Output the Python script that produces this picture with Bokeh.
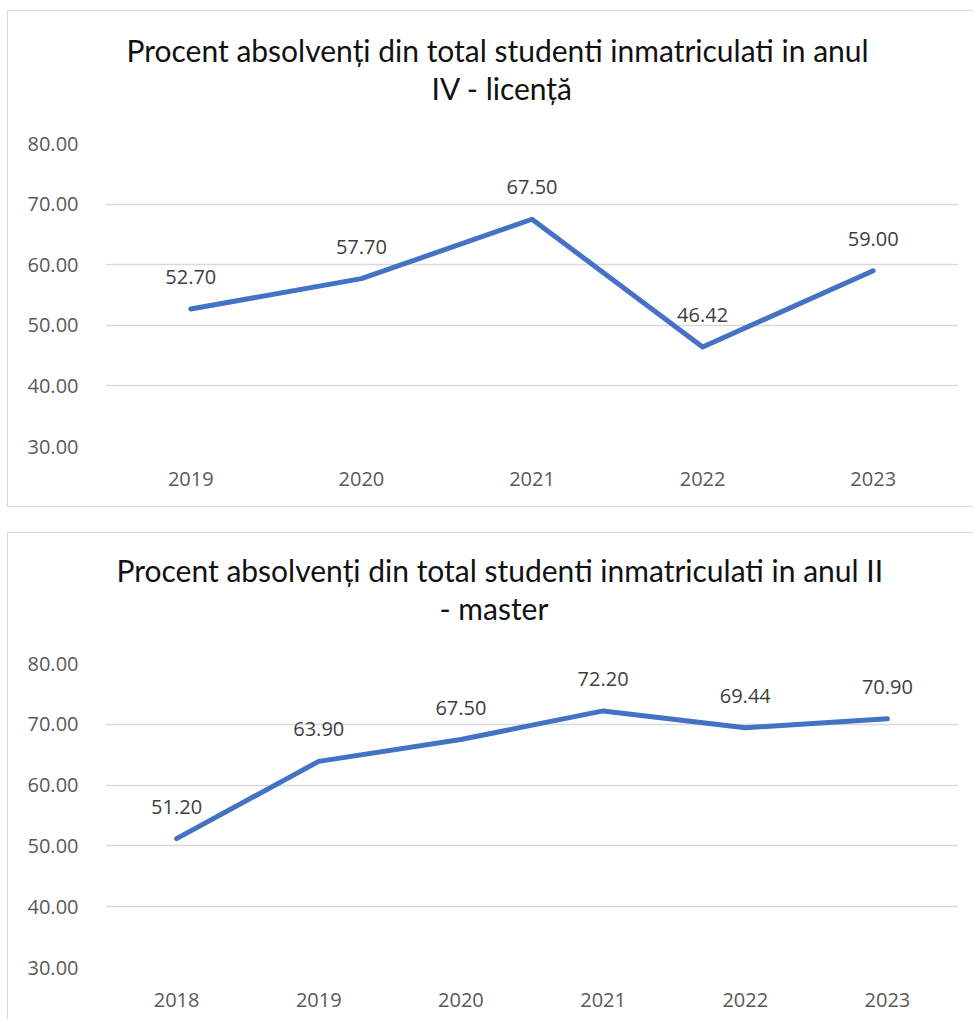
from bokeh.plotting import figure
from bokeh.models import Range1d, FixedTicker, NumeralTickFormatter, Title, FactorRange, Spacer
from bokeh.layouts import column, row
from bokeh.embed import file_html
from bokeh.resources import INLINE
from bokeh.core.properties import value

# ---- data ----
years_lic = ["2019", "2020", "2021", "2022", "2023"]
pct_lic = [52.70, 57.70, 67.50, 46.42, 59.00]
title_lic = ["Procent absolvenți din total studenti inmatriculati in anul", "IV  - licență"]

years_mas = ["2018", "2019", "2020", "2021", "2022", "2023"]
pct_mas = [51.20, 63.90, 67.50, 72.20, 69.44, 70.90]
title_mas = ["Procent absolvenți din total studenti inmatriculati in anul II", "- master"]

y_ticks = [30, 40, 50, 60, 70, 80]

LINE = "#4472C4"
GRID = "#D9D9D9"
TICK = "#595959"
LAB = "#404040"
FONT = "Open Sans"
TFONT = "Lato"


def make_panel(years, vals, titles, title_offsets, height, bl, bt, bb, br, border_css):
    ymin, ymax = y_ticks[0], y_ticks[-1]
    p = figure(width=966, height=height, x_range=FactorRange(factors=years),
               y_range=Range1d(ymin, ymax), output_backend="svg",
               toolbar_location=None, min_border_left=bl, min_border_right=br,
               min_border_top=bt, min_border_bottom=bb)
    p.styles = border_css
    p.outline_line_color = None
    p.background_fill_color = "white"
    p.border_fill_color = "white"
    p.xgrid.grid_line_color = None
    p.ygrid.grid_line_color = GRID
    p.ygrid.grid_line_width = 1.5
    p.yaxis.ticker = FixedTicker(ticks=y_ticks)
    p.yaxis.formatter = NumeralTickFormatter(format="0.00")
    for ax in (p.xaxis[0], p.yaxis[0]):
        ax.axis_line_color = None
        ax.major_tick_line_color = None
        ax.minor_tick_line_color = None
        ax.major_label_text_font = FONT
        ax.major_label_text_font_size = "20px"
        ax.major_label_text_color = TICK
    p.yaxis.major_label_standoff = 21
    p.xaxis.major_label_standoff = 19

    src = dict(x=years, y=vals, t=["%.2f" % v for v in vals])
    p.line(x="x", y="y", source=src, line_color=LINE, line_width=5,
           line_join="round", line_cap="round")
    p.text(x="x", y="y", text="t", source=src, text_font=value(FONT),
           text_font_size="20px", text_color=LAB, text_align="center",
           text_baseline="middle", y_offset=-32)

    # blank (white) spacer title next to the frame, then line 2, then line 1
    p.add_layout(Title(text=".", text_color="white", text_font_size="10px", standoff=28), "above")
    p.add_layout(Title(text=titles[1], align="left", offset=title_offsets[1], standoff=0,
                       text_font=TFONT, text_font_size="30px", text_font_style="normal",
                       text_color="#111111"), "above")
    p.add_layout(Title(text=titles[0], align="left", offset=title_offsets[0], standoff=0,
                       text_font=TFONT, text_font_size="30px", text_font_style="normal",
                       text_color="#111111"), "above")
    return p


p1 = make_panel(years_lic, pct_lic, title_lic, [21, 326], 497, 95, 132, 62, 16,
                {"border-top": "1px solid #D9D9D9", "border-left": "1px solid #D9D9D9",
                 "border-bottom": "1px solid #D9D9D9", "box-sizing": "border-box"})
p2 = make_panel(years_mas, pct_mas, title_mas, [11, 334], 487, 97, 130, 53, 16,
                {"border-top": "1px solid #D9D9D9", "border-left": "1px solid #D9D9D9",
                 "box-sizing": "border-box"})

layout = row(Spacer(width=7), column(Spacer(height=10), p1, Spacer(height=25), p2, spacing=0), spacing=0)
open("out.html", "w").write(file_html(layout, INLINE))
